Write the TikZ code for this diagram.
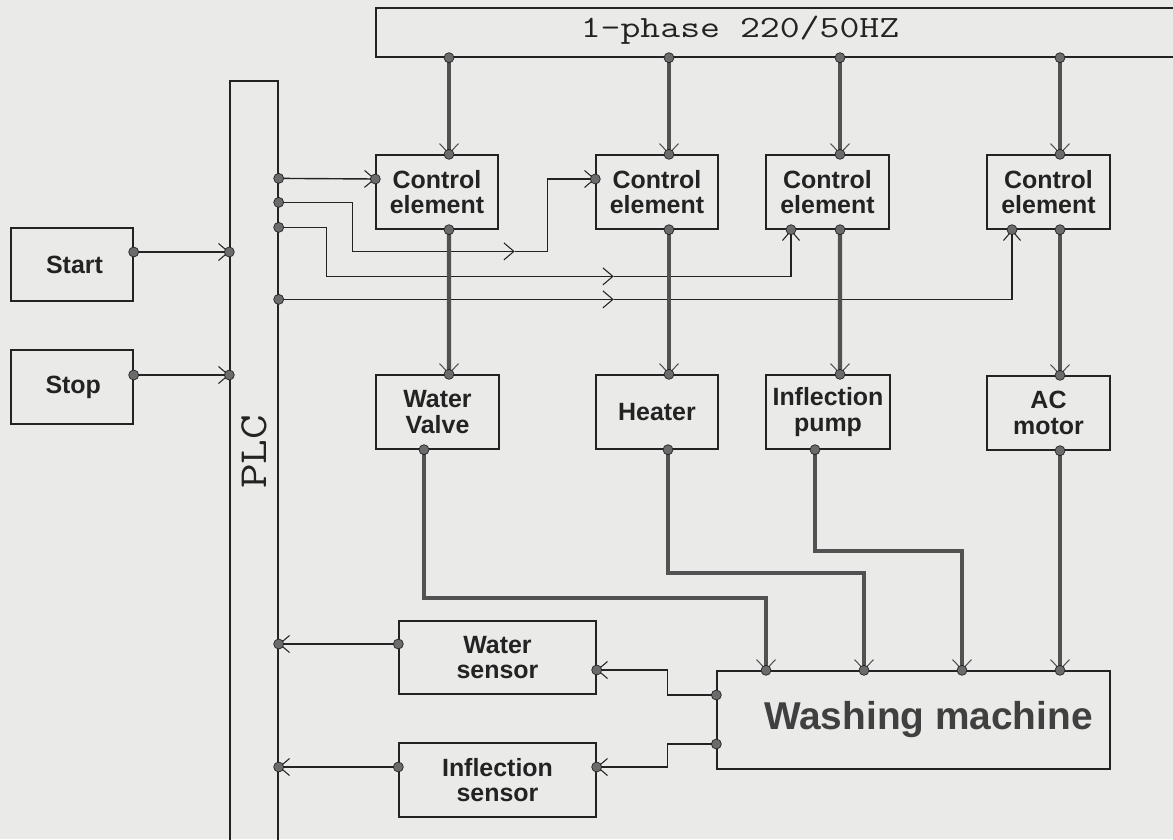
\documentclass[tikz,border=0pt]{standalone}
\usepackage{fontspec}
\setmainfont{Liberation Sans}
\usetikzlibrary{arrows.meta}
\definecolor{bg}{RGB}{234,234,232}
\definecolor{ink}{RGB}{35,35,35}
\begin{document}
\begin{tikzpicture}[x=0.02cm,y=-0.02cm,
  box/.style={draw=ink, line width=0.8pt, inner sep=0pt, align=center, text=ink,
    font=\fontsize{14.2}{14.6}\selectfont\bfseries},
  thinc/.style={draw=ink, line width=0.8pt},
  tip/.style={-{Straight Barb[length=0.2cm,width=0.34cm,line width=0.6pt]}},
  pow/.style={draw=black!68, line width=2.4pt},
  ptip/.style={-{Straight Barb[length=0.2cm,width=0.38cm,line width=0.6pt]}},
  dotc/.style={fill=black!58, draw=ink, line width=0.4pt}
]
\useasboundingbox[fill=bg] (0,0) rectangle (1173,839);

% boxes
\node[draw=ink, line width=0.8pt, inner sep=0pt, minimum width=16.4cm, minimum height=0.98cm] (power) at (786,32.5) {};
\node[anchor=base, text=ink, font=\ttfamily\fontsize{17.6}{18}\selectfont] (ptext) at (740,37) {\scalebox{1.25}[1]{1-phase 220/50HZ}};
\node[draw=ink, line width=0.8pt, inner sep=0pt, minimum width=0.96cm, minimum height=15.4cm] (plc) at (254,466) {};
\node[rotate=90, text=ink, font=\ttfamily\addfontfeatures{FakeBold=2}\fontsize{22.7}{23}\selectfont] (plctext) at (254,452) {\scalebox{1.2}[1]{PLC}};

\node[box, minimum width=2.44cm, minimum height=1.46cm] (start) at (72,264.5) {\hspace*{0.1cm}Start};
\node[box, minimum width=2.44cm, minimum height=1.48cm] (stop) at (72,387) {\hspace*{0.05cm}Stop};

\node[box, minimum width=2.44cm, minimum height=1.48cm] (ce1) at (437,192) {Control\\element};
\node[box, minimum width=2.44cm, minimum height=1.48cm] (ce2) at (657,192) {Control\\element};
\node[box, minimum width=2.46cm, minimum height=1.48cm] (ce3) at (827.5,192) {Control\\element};
\node[box, minimum width=2.46cm, minimum height=1.48cm] (ce4) at (1048.5,192) {Control\\element};

\node[box, minimum width=2.46cm, minimum height=1.48cm] (wv) at (437.5,412) {Water\\Valve};
\node[box, minimum width=2.44cm, minimum height=1.48cm] (heat) at (657,412) {Heater};
\node[box, minimum width=2.48cm, minimum height=1.48cm] (pump) at (828,412) {Inflection\\pump};
\node[box, minimum width=2.46cm, minimum height=1.48cm] (acm) at (1048.5,413) {AC\\motor};

\node[box, minimum width=3.94cm, minimum height=1.46cm] (ws) at (497.5,657.5) {Water\\sensor};
\node[box, minimum width=3.94cm, minimum height=1.48cm] (is) at (497.5,780) {Inflection\\sensor};
\node[box, minimum width=7.86cm, minimum height=1.96cm, font=\fontsize{22.1}{23}\selectfont\bfseries, text=black!75] (wm) at (913.5,720) {\hspace*{0.6cm}Washing machine};

% ports
\path (ce1.north) ++(12,0) coordinate (ce1t);
\path (ce1.south) ++(12,0) coordinate (ce1b);
\path (ce1.west) ++(0,-13) coordinate (ce1l);
\path (ce2.north) ++(12,0) coordinate (ce2t);
\path (ce2.south) ++(12,0) coordinate (ce2b);
\path (ce2.west) ++(0,-13) coordinate (ce2l);
\path (ce3.north) ++(12.5,0) coordinate (ce3t);
\path (ce3.south) ++(12.5,0) coordinate (ce3b);
\path (ce3.south) ++(-36.5,0) coordinate (ce3i);
\path (ce4.north) ++(11.5,0) coordinate (ce4t);
\path (ce4.south) ++(11.5,0) coordinate (ce4b);
\path (ce4.south) ++(-36.5,0) coordinate (ce4i);
\path (wv.north) ++(11.5,0) coordinate (wvt);
\path (wv.south) ++(-13.5,0) coordinate (wvb);
\path (heat.north) ++(12,0) coordinate (heatt);
\path (heat.south) ++(11,0) coordinate (heatb);
\path (pump.north) ++(12,0) coordinate (pumpt);
\path (pump.south) ++(-13,0) coordinate (pumpb);
\path (acm.north) ++(11.5,0) coordinate (act);
\path (acm.south) ++(11.5,0) coordinate (acb);
\path (wm.north) ++(-147.5,0) coordinate (wm1);
\path (wm.north) ++(-49.5,0) coordinate (wm2);
\path (wm.north) ++(48.5,0) coordinate (wm3);
\path (wm.north) ++(146.5,0) coordinate (wm4);
\path (wm.west) ++(0,-25) coordinate (wml1);
\path (wm.west) ++(0,24) coordinate (wml2);
\path (ws.west) ++(0,-13.5) coordinate (wsl);
\path (ws.east) ++(0,12.5) coordinate (wsr);
\path (is.west) ++(0,-13) coordinate (isl);
\path (is.east) ++(0,-13) coordinate (isr);
\path (start.east) ++(0,-12.5) coordinate (startp);
\path (stop.east) ++(0,-12) coordinate (stopp);
\path (plc.north east) ++(0,98) coordinate (plc1);
\path (plc.north east) ++(0,122) coordinate (plc2);
\path (plc.north east) ++(0,147) coordinate (plc3);
\path (plc.north east) ++(0,219) coordinate (plc4);
\coordinate (pw1) at (power.south -| ce1t);
\coordinate (pw2) at (power.south -| ce2t);
\coordinate (pw3) at (power.south -| ce3t);
\coordinate (pw4) at (power.south -| ce4t);
\coordinate (plcs1) at (plc.west |- startp);
\coordinate (plcs2) at (plc.west |- stopp);
\coordinate (plcw) at (plc.east |- wsl);
\coordinate (plci) at (plc.east |- isl);

% thin signal connectors
\draw[thinc,tip] (startp) -- (plcs1);
\draw[thinc,tip] (stopp) -- (plcs2);
\draw[thinc,tip] (plc1) -- (ce1l);
\draw[thinc,tip] (plc2) -| ++(74,49) -- ++(162,0) coordinate (m1);
\draw[thinc,tip] (m1) -- ++(33,0) |- (ce2l);
\draw[thinc,tip] (plc3) -| ++(48,49) -- ++(287,0) coordinate (m2);
\draw[thinc,tip] (m2) -| (ce3i);
\draw[thinc,tip] (plc4) -- ++(335,0) coordinate (m3);
\draw[thinc,tip] (m3) -| (ce4i);
\draw[thinc,tip] (wml1) -- ++(-49,0) |- (wsr);
\draw[thinc,tip] (wml2) -- ++(-49,0) |- (isr);
\draw[thinc,tip] (wsl) -- (plcw);
\draw[thinc,tip] (isl) -- (plci);

% power connectors
\draw[pow,ptip] (pw1) -- (ce1t);
\draw[pow,ptip] (pw2) -- (ce2t);
\draw[pow,ptip] (pw3) -- (ce3t);
\draw[pow,ptip] (pw4) -- (ce4t);
\draw[pow,ptip] (ce1b) -- (wvt);
\draw[pow,ptip] (ce2b) -- (heatt);
\draw[pow,ptip] (ce3b) -- (pumpt);
\draw[pow,ptip] (ce4b) -- (act);
\draw[pow,ptip] (wvb) -- ++(0,148) -| (wm1);
\draw[pow,ptip] (heatb) -- ++(0,123) -| (wm2);
\draw[pow,ptip] (pumpb) -- ++(0,101) -| (wm3);
\draw[pow,ptip] (acb) -- (wm4);

% dots
\foreach \p in {ce1t,ce1b,ce1l,ce2t,ce2b,ce2l,ce3t,ce3b,ce3i,ce4t,ce4b,ce4i,
  wvt,wvb,heatt,heatb,pumpt,pumpb,act,acb,wm1,wm2,wm3,wm4,wml1,wml2,
  wsl,wsr,isl,isr,startp,stopp,plc1,plc2,plc3,plc4,pw1,pw2,pw3,pw4,
  plcs1,plcs2,plcw,plci}
  \filldraw[dotc] (\p) circle (0.1cm);
\end{tikzpicture}
\end{document}
